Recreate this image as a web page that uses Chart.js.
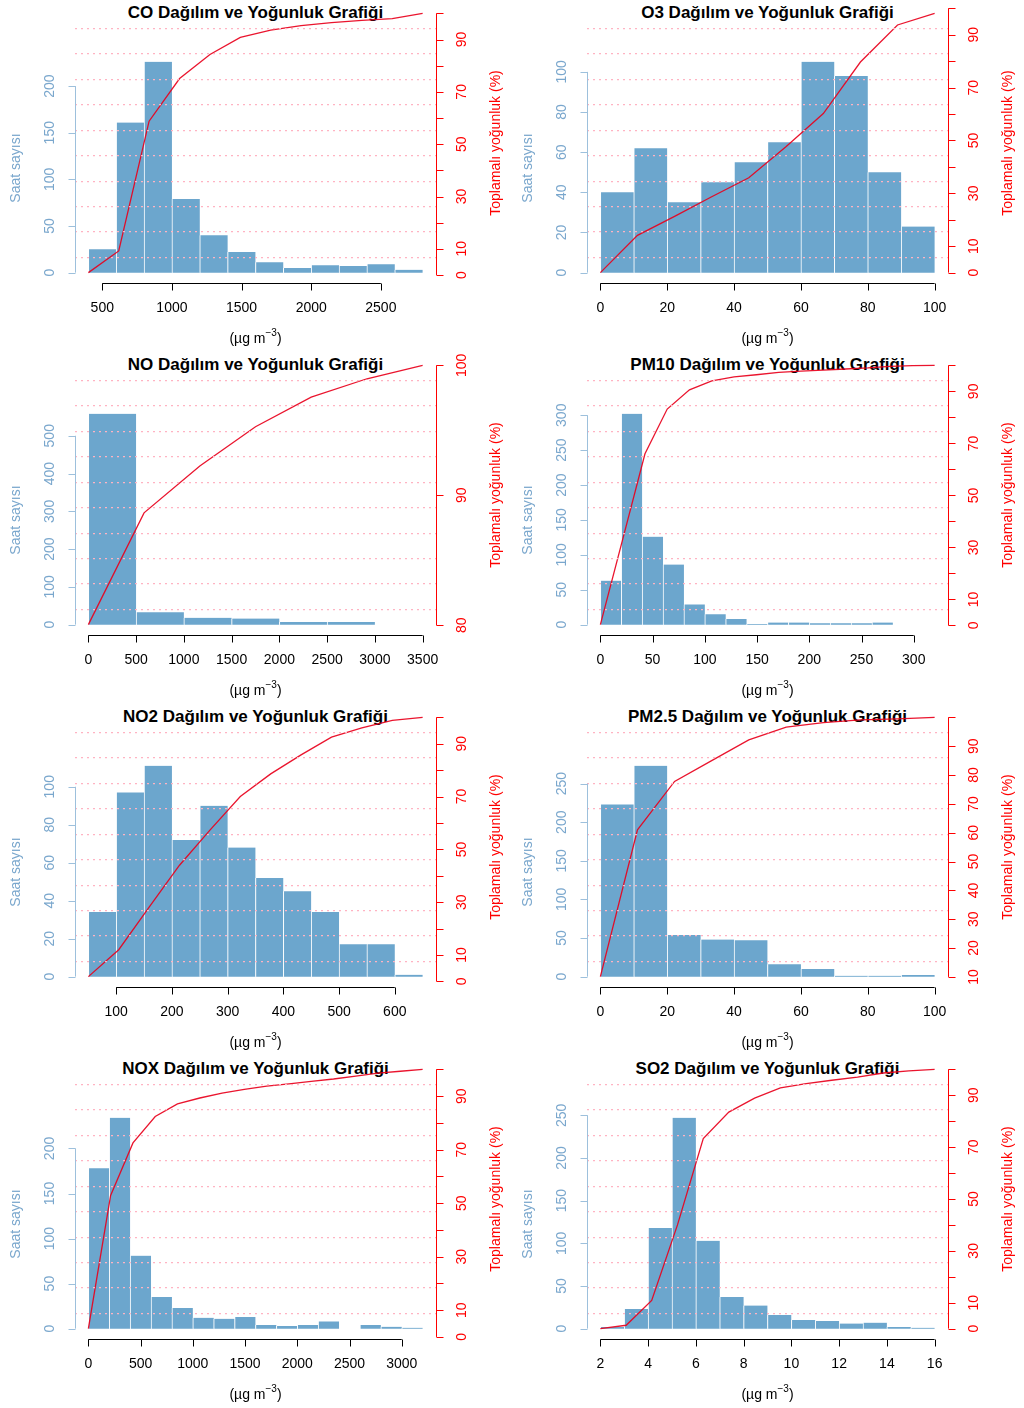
<!DOCTYPE html>
<html>
<head>
<meta charset="utf-8">
<title>Dağılım ve Yoğunluk Grafikleri</title>
<script src="https://cdn.jsdelivr.net/npm/chart.js@4.4.1/dist/chart.umd.min.js"></script>
<style>
  body { margin: 0; background: #fff; }
  #wrap { position: relative; width: 1024px; height: 1408px; }
  .panel { position: absolute; width: 512px; height: 352px; }
  .panel h2 {
    position: absolute; left: 75px; width: 361px; top: 3px; margin: 0;
    text-align: center; line-height: 19px;
    font: bold 17px "Liberation Sans", Arial, sans-serif; color: #000;
  }
  .panel canvas { position: absolute; left: 0; top: 0; }
</style>
</head>
<body>
<div id="wrap"></div>
<script>
// ---- data ----
const coBreaks = [400, 600, 800, 1000, 1200, 1400, 1600, 1800, 2000, 2200, 2400, 2600, 2800];
const coCounts = [25, 161, 226, 79, 40, 22, 11, 5, 8, 7, 9, 3];
const coCumX = [400, 618, 836, 1055, 1273, 1491, 1709, 1927, 2145, 2364, 2582, 2800];
const coCumY = [0.9, 9.2, 58.8, 75.1, 84.3, 90.8, 93.6, 95.3, 96.5, 97.3, 98.0, 100];
const coXTicks = [500, 1000, 1500, 2000, 2500];
const coYTicks = [0, 50, 100, 150, 200];

const o3Breaks = [0, 10, 20, 30, 40, 50, 60, 70, 80, 90, 100];
const o3Counts = [40, 62, 35, 45, 55, 65, 105, 98, 50, 23];
const o3CumX = [0, 11.1, 22.2, 33.3, 44.4, 55.6, 66.7, 77.8, 88.9, 100];
const o3CumY = [0, 14.1, 21.3, 28.7, 35.9, 47.7, 60.2, 79.7, 93.7, 98.1];
const o3XTicks = [0, 20, 40, 60, 80, 100];
const o3YTicks = [0, 20, 40, 60, 80, 100];

const noBreaks = [0, 500, 1000, 1500, 2000, 2500, 3000];
const noCounts = [558, 33, 18, 16, 7, 7];
const noCumX = [0, 583, 1167, 1750, 2333, 2917, 3500];
const noCumY = [80.05, 88.65, 92.26, 95.28, 97.55, 98.97, 100];
const noXTicks = [0, 500, 1000, 1500, 2000, 2500, 3000, 3500];
const noYTicks = [0, 100, 200, 300, 400, 500];
const noRTicks = [80, 90, 100];

const pm10Breaks = [0, 20, 40, 60, 80, 100, 120, 140, 160, 180, 200, 220, 240, 260, 280];
const pm10Counts = [63, 302, 126, 86, 29, 15, 8, 1, 3, 3, 2, 2, 2, 3];
const pm10CumX = [0, 21.3, 42.7, 64, 85.3, 106.7, 128, 149.3, 170.7, 192, 213.3, 234.7, 256, 277.3, 298.7, 320];
const pm10CumY = [0.3, 33, 66, 83.2, 90.6, 94.0, 95.6, 96.4, 97.3, 97.8, 98.2, 98.6, 99.0, 99.6, 99.9, 100];
const pm10XTicks = [0, 50, 100, 150, 200, 250, 300];
const pm10YTicks = [0, 50, 100, 150, 200, 250, 300];

const no2Breaks = [50, 100, 150, 200, 250, 300, 350, 400, 450, 500, 550, 600, 650];
const no2Counts = [34, 97, 111, 72, 90, 68, 52, 45, 34, 17, 17, 1];
const no2CumX = [50, 104.5, 159.1, 213.6, 268.2, 322.7, 377.3, 431.8, 486.4, 540.9, 595.5, 650];
const no2CumY = [1.8, 12, 28.1, 44, 57.3, 70, 78.6, 85.8, 92.5, 96, 98.9, 100];
const no2XTicks = [100, 200, 300, 400, 500, 600];
const no2YTicks = [0, 20, 40, 60, 80, 100];

const pm25Breaks = [0, 10, 20, 30, 40, 50, 60, 70, 80, 90, 100];
const pm25Counts = [223, 273, 54, 48, 47, 16, 10, 1, 1, 2];
const pm25CumX = [0, 11.1, 22.2, 33.3, 44.4, 55.6, 66.7, 77.8, 88.9, 100];
const pm25CumY = [10.1, 61, 77.8, 85, 92.2, 96.6, 98.2, 99.1, 99.5, 100];
const pm25XTicks = [0, 20, 40, 60, 80, 100];
const pm25YTicks = [0, 50, 100, 150, 200, 250];
const pm25RTicks = [10, 20, 30, 40, 50, 60, 70, 80, 90, 100];
const pm25RLabels = [10, 20, 30, 40, 50, 60, 70, 80, 90];

const noxBreaks = [0, 200, 400, 600, 800, 1000, 1200, 1400, 1600, 1800, 2000, 2200, 2400, 2600, 2800, 3000, 3200];
const noxCounts = [178, 234, 81, 35, 23, 12, 11, 13, 4, 3, 4, 8, 0, 4, 2, 1];
const noxCumX = [0, 213, 427, 640, 853, 1067, 1280, 1493, 1707, 1920, 2133, 2347, 2560, 2773, 2987, 3200];
const noxCumY = [3.1, 52.9, 72.5, 82.4, 87.1, 89.3, 91.1, 92.5, 93.7, 94.6, 95.5, 96.4, 97.5, 98.6, 99.3, 100];
const noxXTicks = [0, 500, 1000, 1500, 2000, 2500, 3000];
const noxYTicks = [0, 50, 100, 150, 200];

const so2Breaks = [2, 3, 4, 5, 6, 7, 8, 9, 10, 11, 12, 13, 14, 15, 16];
const so2Counts = [2, 23, 118, 247, 103, 37, 27, 16, 10, 9, 6, 7, 2, 1];
const so2CumX = [2, 3.08, 4.15, 5.23, 6.31, 7.38, 8.46, 9.54, 10.62, 11.69, 12.77, 13.85, 14.92, 16];
const so2CumY = [0, 1.3, 10.9, 40, 73.3, 83.5, 88.9, 92.9, 94.5, 95.8, 97.0, 98.6, 99.4, 100];
const so2XTicks = [2, 4, 6, 8, 10, 12, 14, 16];
const so2YTicks = [0, 50, 100, 150, 200, 250];

const pctTicks = [0, 10, 20, 30, 40, 50, 60, 70, 80, 90, 100];
const pctLabels = [0, 10, 30, 50, 70, 90];

const panels = [
  { name: 'CO', breaks: coBreaks, counts: coCounts, cumX: coCumX, cumY: coCumY, xTicks: coXTicks, yTicks: coYTicks, rTicks: pctTicks, rLabels: pctLabels },
  { name: 'O3', breaks: o3Breaks, counts: o3Counts, cumX: o3CumX, cumY: o3CumY, xTicks: o3XTicks, yTicks: o3YTicks, rTicks: pctTicks, rLabels: pctLabels },
  { name: 'NO', breaks: noBreaks, counts: noCounts, cumX: noCumX, cumY: noCumY, xTicks: noXTicks, yTicks: noYTicks, rTicks: noRTicks, rLabels: noRTicks },
  { name: 'PM10', breaks: pm10Breaks, counts: pm10Counts, cumX: pm10CumX, cumY: pm10CumY, xTicks: pm10XTicks, yTicks: pm10YTicks, rTicks: pctTicks, rLabels: pctLabels },
  { name: 'NO2', breaks: no2Breaks, counts: no2Counts, cumX: no2CumX, cumY: no2CumY, xTicks: no2XTicks, yTicks: no2YTicks, rTicks: pctTicks, rLabels: pctLabels },
  { name: 'PM2.5', breaks: pm25Breaks, counts: pm25Counts, cumX: pm25CumX, cumY: pm25CumY, xTicks: pm25XTicks, yTicks: pm25YTicks, rTicks: pm25RTicks, rLabels: pm25RLabels },
  { name: 'NOX', breaks: noxBreaks, counts: noxCounts, cumX: noxCumX, cumY: noxCumY, xTicks: noxXTicks, yTicks: noxYTicks, rTicks: pctTicks, rLabels: pctLabels },
  { name: 'SO2', breaks: so2Breaks, counts: so2Counts, cumX: so2CumX, cumY: so2CumY, xTicks: so2XTicks, yTicks: so2YTicks, rTicks: pctTicks, rLabels: pctLabels },
];

const FONT = '"Liberation Sans", Arial, sans-serif';
const BAR_COL = '#6CA6CD';
const LEFT_COL = '#7aa7cd';
const RIGHT_COL = '#ff0000';

function vText(ctx, s, cx, cy) {
  ctx.save();
  ctx.translate(cx, cy);
  ctx.rotate(-Math.PI / 2);
  ctx.textAlign = 'center';
  ctx.textBaseline = 'middle';
  ctx.fillText(s, 0, 0);
  ctx.restore();
}

// R-style axes: line only from first to last tick, rotated y labels
const rAxes = {
  id: 'rAxes',
  afterDraw(chart, args, opts) {
    const p = opts.panel;
    const { ctx, chartArea: a } = chart;
    const { x, y, y1 } = chart.scales;
    ctx.save();
    ctx.lineWidth = 1;

    // bottom axis
    const yb = Math.round(a.bottom) + 0.5;
    ctx.strokeStyle = '#000';
    ctx.fillStyle = '#000';
    ctx.beginPath();
    ctx.moveTo(x.getPixelForValue(p.xTicks[0]), yb);
    ctx.lineTo(x.getPixelForValue(p.xTicks[p.xTicks.length - 1]), yb);
    p.xTicks.forEach(v => {
      const px = Math.round(x.getPixelForValue(v)) + 0.5;
      ctx.moveTo(px, yb);
      ctx.lineTo(px, yb + 7);
    });
    ctx.stroke();
    ctx.font = '14px ' + FONT;
    ctx.textAlign = 'center';
    ctx.textBaseline = 'middle';
    p.xTicks.forEach(v => ctx.fillText(String(v), x.getPixelForValue(v), a.bottom + 25));

    // unit label (µg m^-3)
    const cx = (a.left + a.right) / 2, by = a.bottom + 60;
    ctx.textAlign = 'left';
    ctx.textBaseline = 'alphabetic';
    ctx.font = '14px ' + FONT;
    const w1 = ctx.measureText('(µg m').width, w3 = ctx.measureText(')').width;
    ctx.font = '10px ' + FONT;
    const w2 = ctx.measureText('−3').width;
    let sx = cx - (w1 + w2 + w3) / 2;
    ctx.font = '14px ' + FONT;
    ctx.fillText('(µg m', sx, by);
    ctx.font = '10px ' + FONT;
    ctx.fillText('−3', sx + w1, by - 7);
    ctx.font = '14px ' + FONT;
    ctx.fillText(')', sx + w1 + w2, by);

    // left axis (counts)
    const xl = Math.round(a.left) + 0.5;
    ctx.strokeStyle = '#9dc0dc';
    ctx.fillStyle = LEFT_COL;
    ctx.beginPath();
    ctx.moveTo(xl, y.getPixelForValue(p.yTicks[0]));
    ctx.lineTo(xl, y.getPixelForValue(p.yTicks[p.yTicks.length - 1]));
    p.yTicks.forEach(v => {
      const py = Math.round(y.getPixelForValue(v)) + 0.5;
      ctx.moveTo(xl, py);
      ctx.lineTo(xl - 7, py);
    });
    ctx.stroke();
    ctx.font = '14px ' + FONT;
    p.yTicks.forEach(v => vText(ctx, String(v), a.left - 25, y.getPixelForValue(v)));
    vText(ctx, 'Saat sayısı', 16, 168);

    // right axis (cumulative %)
    const xr = Math.round(a.right) + 0.5;
    ctx.strokeStyle = RIGHT_COL;
    ctx.fillStyle = RIGHT_COL;
    ctx.beginPath();
    ctx.moveTo(xr, y1.getPixelForValue(p.rTicks[0]));
    ctx.lineTo(xr, y1.getPixelForValue(p.rTicks[p.rTicks.length - 1]));
    p.rTicks.forEach(v => {
      const py = Math.round(y1.getPixelForValue(v)) + 0.5;
      ctx.moveTo(xr, py);
      ctx.lineTo(xr + 7, py);
    });
    ctx.stroke();
    p.rLabels.forEach(v => vText(ctx, String(v), a.right + 26, y1.getPixelForValue(v)));
    vText(ctx, 'Toplamalı yoğunluk (%)', a.right + 60, (a.top + a.bottom) / 2);

    ctx.restore();
  }
};

const wrap = document.getElementById('wrap');

panels.forEach((p, i) => {
  const div = document.createElement('div');
  div.className = 'panel';
  div.style.left = (i % 2) * 512 + 'px';
  div.style.top = Math.floor(i / 2) * 352 + 'px';
  const h = document.createElement('h2');
  h.textContent = p.name + ' Dağılım ve Yoğunluk Grafiği';
  const canvas = document.createElement('canvas');
  canvas.width = 512;
  canvas.height = 352;
  div.appendChild(h);
  div.appendChild(canvas);
  wrap.appendChild(div);

  const bars = p.counts.map((c, k) => ({ x: (p.breaks[k] + p.breaks[k + 1]) / 2, y: c }));
  const cum = p.cumX.map((v, k) => ({ x: v, y: p.cumY[k] }));

  const xlo = Math.min(p.breaks[0], p.cumX[0]);
  const xhi = Math.max(p.breaks[p.breaks.length - 1], p.cumX[p.cumX.length - 1]);
  const L = Math.max(...p.counts) * 1.23;
  const rlo = Math.min(...p.cumY), rhi = Math.max(...p.cumY);

  new Chart(canvas.getContext('2d'), {
    type: 'bar',
    data: {
      datasets: [
        {
          type: 'line',
          data: cum,
          yAxisID: 'y1',
          borderColor: 'rgba(232, 0, 28, 0.92)',
          borderWidth: 1.3,
          pointRadius: 0,
          tension: 0,
          fill: false,
        },
        {
          type: 'bar',
          data: bars,
          yAxisID: 'y',
          backgroundColor: BAR_COL,
          borderColor: 'rgba(255, 255, 255, 0.85)',
          borderWidth: { left: 1, right: 0, top: 0, bottom: 0 },
          borderSkipped: false,
          barPercentage: 1,
          categoryPercentage: 1,
          grouped: false,
        },
      ],
    },
    options: {
      responsive: false,
      animation: false,
      layout: { padding: { left: 75, right: 76, top: 3, bottom: 69 } },
      plugins: {
        legend: { display: false },
        tooltip: { enabled: false },
        rAxes: { panel: p },
      },
      scales: {
        x: {
          type: 'linear',
          display: false,
          offset: false,
          min: xlo - 0.04 * (xhi - xlo),
          max: xhi + 0.04 * (xhi - xlo),
        },
        y: {
          type: 'linear',
          display: false,
          min: -0.04 * L,
          max: 1.04 * L,
        },
        y1: {
          type: 'linear',
          display: false,
          min: rlo - 0.04 * (rhi - rlo),
          max: rhi + 0.04 * (rhi - rlo),
        },
        // eleven equal bands, like R's grid(ny = 11)
        g: {
          type: 'linear',
          position: 'left',
          min: 0,
          max: 11,
          ticks: { display: false, stepSize: 1, padding: 0 },
          grid: {
            z: 1,
            drawTicks: false,
            lineWidth: 1.2,
            color: c => (c.tick && (c.tick.value === 0 || c.tick.value === 11)) ? 'rgba(0,0,0,0)' : '#ffb3c2',
          },
          border: { display: false, dash: [2, 4] },
          afterFit: s => { s.width = 0; },
        },
      },
    },
    plugins: [rAxes],
  });
});
</script>
</body>
</html>
